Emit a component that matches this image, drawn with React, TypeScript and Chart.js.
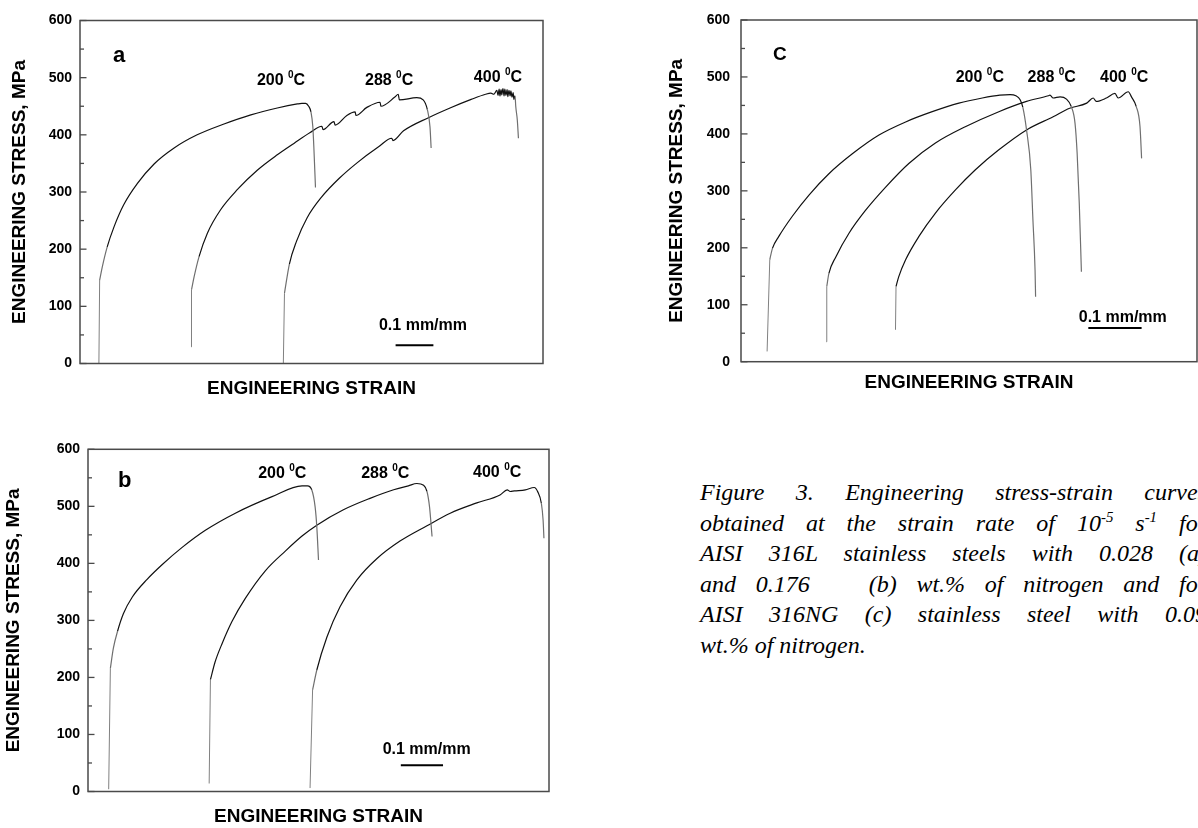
import React, { useEffect, useRef } from "react";
import { Chart, registerables } from "chart.js";

Chart.register(...registerables);

const SANS = "'Liberation Sans', Arial, Helvetica, sans-serif";
const SERIF = "'Liberation Serif', 'Times New Roman', Times, serif";

// Stress axis tick values, MPa
const stressTicks = [0, 100, 200, 300, 400, 500, 600];
// Test temperatures, degrees C
const temperatures = ["200", "288", "400"];

// Each curve: first point = start of the elastic line, second = yield knee,
// the rest = plastic flow up to fracture. Curves are shifted along the strain axis.

// (a) AISI 316L, 0.028 wt.% N
const a200Strain = [0.050, 0.052, 0.059, 0.072, 0.090, 0.116, 0.152, 0.196, 0.249, 0.310, 0.381, 0.452, 0.522, 0.575, 0.587, 0.597, 0.605, 0.611, 0.616, 0.619, 0.623];
const a200Stress = [0, 146, 169, 204, 239, 278, 315, 349, 377, 400, 419, 435, 447, 454, 455, 455, 450, 440, 414, 374, 308];
const a288Strain = [0.294, 0.295, 0.302, 0.315, 0.337, 0.372, 0.416, 0.469, 0.522, 0.566, 0.609, 0.640, 0.643, 0.672, 0.675, 0.706, 0.728, 0.730, 0.759, 0.794, 0.796, 0.833, 0.842, 0.845, 0.891, 0.908, 0.919, 0.926, 0.929];
const a288Stress = [29, 129, 152, 187, 228, 269, 304, 338, 365, 385, 404, 415, 409, 423, 417, 434, 440, 434, 448, 457, 450, 466, 471, 461, 465, 461, 444, 414, 377];
const a400Strain = [0.538, 0.541, 0.554, 0.573, 0.601, 0.639, 0.686, 0.733, 0.790, 0.825, 0.828, 0.856, 0.922, 0.979, 1.035, 1.073, 1.087, 1.095, 1.103, 1.106, 1.109, 1.111, 1.114, 1.116, 1.119, 1.122, 1.124, 1.127, 1.130, 1.132, 1.135, 1.138, 1.140, 1.143, 1.146, 1.148, 1.151, 1.153, 1.157, 1.160];
const a400Stress = [0, 123, 174, 214, 255, 291, 324, 351, 379, 394, 390, 407, 430, 447, 462, 471, 473, 471, 478, 469, 480, 468, 479, 470, 481, 468, 480, 469, 479, 467, 478, 468, 477, 466, 474, 462, 468, 449, 426, 394];

// (b) AISI 316L, 0.176 wt.% N
const b200Strain = [0.049, 0.053, 0.060, 0.070, 0.084, 0.105, 0.140, 0.176, 0.223, 0.278, 0.349, 0.436, 0.507, 0.520, 0.530, 0.538, 0.542, 0.546];
const b200Stress = [4, 216, 251, 281, 312, 341, 372, 398, 428, 458, 488, 517, 536, 536, 529, 499, 464, 406];
const b288Strain = [0.287, 0.290, 0.301, 0.318, 0.341, 0.373, 0.420, 0.468, 0.507, 0.542, 0.605, 0.668, 0.724, 0.759, 0.779, 0.795, 0.803, 0.809, 0.815];
const b288Stress = [14, 196, 227, 260, 298, 339, 387, 422, 448, 467, 494, 514, 529, 536, 540, 537, 526, 499, 447];
const b400Strain = [0.526, 0.532, 0.542, 0.566, 0.597, 0.637, 0.684, 0.739, 0.803, 0.858, 0.921, 0.976, 0.993, 1.000, 1.010, 1.036, 1.057, 1.065, 1.074, 1.078, 1.080];
const b400Stress = [6, 178, 213, 271, 324, 371, 408, 439, 466, 488, 506, 520, 529, 526, 527, 529, 533, 526, 505, 476, 444];

// (c) AISI 316NG, 0.09 wt.% N
const c200Strain = [0.049, 0.054, 0.059, 0.071, 0.096, 0.128, 0.165, 0.209, 0.259, 0.309, 0.359, 0.409, 0.453, 0.486, 0.505, 0.516, 0.524, 0.529, 0.536, 0.544, 0.548, 0.552, 0.553];
const c200Stress = [18, 179, 199, 220, 255, 293, 330, 365, 398, 421, 439, 454, 463, 468, 469, 467, 460, 447, 407, 337, 249, 161, 114];
const c288Strain = [0.160, 0.161, 0.165, 0.178, 0.203, 0.234, 0.272, 0.315, 0.365, 0.422, 0.484, 0.536, 0.577, 0.580, 0.586, 0.599, 0.611, 0.620, 0.627, 0.631, 0.635, 0.639];
const c288Stress = [35, 132, 155, 184, 226, 266, 307, 348, 384, 413, 439, 457, 467, 468, 463, 465, 461, 448, 419, 366, 278, 158];
const c400Strain = [0.290, 0.291, 0.296, 0.309, 0.334, 0.365, 0.403, 0.440, 0.484, 0.536, 0.586, 0.617, 0.649, 0.661, 0.667, 0.686, 0.702, 0.708, 0.727, 0.733, 0.742, 0.749, 0.752];
const c400Stress = [56, 132, 149, 179, 220, 261, 302, 337, 372, 407, 430, 445, 454, 463, 457, 463, 471, 463, 474, 465, 448, 413, 357];

type Curve = { strain: number[]; stress: number[] };
type Panel = {
  id: string;
  letter: string;
  letterSize: number;
  letterAt: [number, number];
  curves: Curve[];
  tempAt: [number, number][];
  strainMax: number;
  barStart: number;
  barStress: number;
  barTextAt: [number, number];
  box: { left: number; top: number; width: number; height: number };
  padTop: number;
  padRight: number;
  yAxisWidth: number;
  xAxisHeight: number;
  yTitlePad: number;
  xTitlePad: number;
  tickPad: number;
};

const panels: Panel[] = [
  {
    id: "a",
    letter: "a",
    letterSize: 22,
    letterAt: [0.087, 528],
    curves: [
      { strain: a200Strain, stress: a200Stress },
      { strain: a288Strain, stress: a288Stress },
      { strain: a400Strain, stress: a400Stress },
    ],
    tempAt: [[0.468, 487], [0.754, 487], [1.042, 492]],
    strainMax: 1.225,
    barStart: 0.835,
    barStress: 32,
    barTextAt: [0.791, 59],
    box: { left: 0, top: 0, width: 560, height: 410 },
    padTop: 20.5,
    padRight: 17,
    yAxisWidth: 80,
    xAxisHeight: 46.5,
    yTitlePad: 8.8,
    xTitlePad: 10.2,
    tickPad: 8,
  },
  {
    id: "b",
    letter: "b",
    letterSize: 22,
    letterAt: [0.071, 534],
    curves: [
      { strain: b200Strain, stress: b200Stress },
      { strain: b288Strain, stress: b288Stress },
      { strain: b400Strain, stress: b400Stress },
    ],
    tempAt: [[0.403, 549], [0.647, 549], [0.912, 552]],
    strainMax: 1.092,
    barStart: 0.741,
    barStress: 46,
    barTextAt: [0.698, 66],
    box: { left: 0, top: 420, width: 560, height: 408 },
    padTop: 29.3,
    padRight: 11,
    yAxisWidth: 88,
    xAxisHeight: 36.5,
    yTitlePad: 2.6,
    xTitlePad: 0,
    tickPad: 8,
  },
  {
    id: "c",
    letter: "C",
    letterSize: 19,
    letterAt: [0.06, 530],
    curves: [
      { strain: c200Strain, stress: c200Stress },
      { strain: c288Strain, stress: c288Stress },
      { strain: c400Strain, stress: c400Stress },
    ],
    tempAt: [[0.403, 492], [0.538, 492], [0.674, 492]],
    strainMax: 0.856,
    barStart: 0.652,
    barStress: 59,
    barTextAt: [0.634, 70],
    box: { left: 660, top: 0, width: 538, height: 410 },
    padTop: 20,
    padRight: 1,
    yAxisWidth: 81,
    xAxisHeight: 48.3,
    yTitlePad: 5.5,
    xTitlePad: 15.9,
    tickPad: 11,
  },
];

function drawTemperature(ctx: CanvasRenderingContext2D, t: string, x: number, y: number) {
  ctx.font = `bold 16px ${SANS}`;
  ctx.fillText(t + " ", x, y);
  let cx = x + ctx.measureText(t + " ").width;
  ctx.font = `bold 10px ${SANS}`;
  ctx.fillText("0", cx, y - 7);
  cx += ctx.measureText("0").width;
  ctx.font = `bold 16px ${SANS}`;
  ctx.fillText("C", cx, y);
}

// long near-vertical stretches of a record (loading and fracture) print thin and grey
const steepGrey = (ctx: any) => {
  const dx = Math.abs(ctx.p1.x - ctx.p0.x);
  const dy = Math.abs(ctx.p1.y - ctx.p0.y);
  return dy > 4 * dx && dy > 9 ? "#6f6f6f" : undefined;
};

function curveDatasets(c: Curve, label: string) {
  const pts = c.strain.map((s, k) => ({ x: s, y: c.stress[k] }));
  const style = { borderColor: "#111", borderWidth: 1.2, pointRadius: 0, fill: false };
  return [
    // straight elastic loading line up to the yield knee
    { ...style, label: `${label} elastic`, data: pts.slice(0, 2), tension: 0, borderColor: "#808080", borderWidth: 1 },
    // smooth plastic flow curve from the knee to fracture
    {
      ...style,
      label,
      data: pts.slice(1),
      cubicInterpolationMode: "monotone" as const,
      segment: { borderColor: steepGrey },
    },
  ];
}

function PanelChart({ panel }: { panel: Panel }) {
  const ref = useRef<HTMLCanvasElement>(null);

  useEffect(() => {
    const canvas = ref.current;
    if (!canvas) return;

    const decor = {
      id: "panelDecor",
      afterDatasetsDraw(chart: any) {
        const { ctx, chartArea } = chart;
        const { left, right, top, bottom } = chartArea;
        const xs = chart.scales.x;
        const ys = chart.scales.y;
        ctx.save();

        // plot frame
        ctx.strokeStyle = "#4a4a4a";
        ctx.lineWidth = 1.5;
        ctx.strokeRect(left, top, right - left, bottom - top);

        // inward ticks on the stress axis: major at labels, minor halfway
        ctx.lineWidth = 1.3;
        for (let i = 0; i < stressTicks.length; i++) {
          const v = stressTicks[i];
          const py = ys.getPixelForValue(v);
          ctx.beginPath();
          ctx.moveTo(left, py);
          ctx.lineTo(left + 6.5, py);
          ctx.stroke();
          if (i < stressTicks.length - 1) {
            const pm = ys.getPixelForValue((v + stressTicks[i + 1]) / 2);
            ctx.beginPath();
            ctx.moveTo(left, pm);
            ctx.lineTo(left + 4, pm);
            ctx.stroke();
          }
        }

        ctx.fillStyle = "#000";
        ctx.textBaseline = "alphabetic";
        ctx.textAlign = "left";

        // panel letter
        ctx.font = `bold ${panel.letterSize}px ${SANS}`;
        ctx.fillText(panel.letter, xs.getPixelForValue(panel.letterAt[0]), ys.getPixelForValue(panel.letterAt[1]));

        // temperature labels
        temperatures.forEach((t, i) => {
          const [sx, sy] = panel.tempAt[i];
          drawTemperature(ctx, t, xs.getPixelForValue(sx), ys.getPixelForValue(sy));
        });

        // 0.1 mm/mm strain scale bar
        ctx.font = `bold 16px ${SANS}`;
        ctx.fillText("0.1 mm/mm", xs.getPixelForValue(panel.barTextAt[0]), ys.getPixelForValue(panel.barTextAt[1]));
        const by = ys.getPixelForValue(panel.barStress);
        ctx.strokeStyle = "#000";
        ctx.lineWidth = 2;
        ctx.beginPath();
        ctx.moveTo(xs.getPixelForValue(panel.barStart), by);
        ctx.lineTo(xs.getPixelForValue(panel.barStart + 0.1), by);
        ctx.stroke();

        ctx.restore();
      },
    };

    const chart = new Chart(canvas, {
      type: "line",
      data: {
        datasets: panel.curves.flatMap((c, i) => curveDatasets(c, `${temperatures[i]} °C`)),
      },
      options: {
        animation: false,
        responsive: false,
        events: [],
        layout: { padding: { left: 0, top: panel.padTop, right: panel.padRight, bottom: 0 } },
        plugins: { legend: { display: false }, tooltip: { enabled: false } },
        scales: {
          x: {
            type: "linear",
            min: 0,
            max: panel.strainMax,
            ticks: { display: false },
            grid: { display: false, drawTicks: false },
            border: { display: false },
            title: {
              display: true,
              text: "ENGINEERING STRAIN",
              color: "#000",
              font: { family: SANS, size: 19, weight: "bold" },
              padding: { top: 0, bottom: panel.xTitlePad },
            },
            afterFit: (s: any) => {
              s.height = panel.xAxisHeight;
            },
          },
          y: {
            type: "linear",
            min: 0,
            max: 600,
            afterBuildTicks: (s: any) => {
              s.ticks = stressTicks.map((v) => ({ value: v }));
            },
            ticks: {
              color: "#000",
              font: { family: SANS, size: 14, weight: "bold" },
              padding: panel.tickPad,
            },
            grid: { display: false, drawTicks: false },
            border: { display: false },
            title: {
              display: true,
              text: "ENGINEERING STRESS, MPa",
              color: "#000",
              font: { family: SANS, size: 19, weight: "bold" },
              padding: { top: panel.yTitlePad, bottom: 0 },
            },
            afterFit: (s: any) => {
              s.width = panel.yAxisWidth;
            },
          },
        },
      },
      plugins: [decor],
    } as any);

    return () => chart.destroy();
  }, [panel]);

  const { left, top, width, height } = panel.box;
  return (
    <canvas
      ref={ref}
      width={width}
      height={height}
      style={{ position: "absolute", left, top, width, height }}
    />
  );
}

const supStyle: React.CSSProperties = { fontSize: "0.62em", lineHeight: 0, verticalAlign: "0.6em" };
const lineStyle: React.CSSProperties = { textAlign: "justify", textAlignLast: "justify" as any, height: 30.6 };

function Caption() {
  return (
    <div
      style={{
        position: "absolute",
        left: 700,
        top: 477,
        width: 507,
        fontFamily: SERIF,
        fontStyle: "italic",
        fontSize: 24,
        lineHeight: "30.6px",
        color: "#000",
      }}
    >
      <div style={lineStyle}>Figure 3. Engineering stress-strain curves</div>
      <div style={lineStyle}>
        obtained at the strain rate of 10<sup style={supStyle}>-5</sup> s<sup style={supStyle}>-1</sup> for
      </div>
      <div style={lineStyle}>AISI 316L stainless steels with 0.028 (a)</div>
      <div style={lineStyle}>and 0.176 &nbsp;&nbsp;(b) wt.% of nitrogen and for</div>
      <div style={lineStyle}>AISI 316NG (c) stainless steel with 0.09</div>
      <div style={{ height: 30.6 }}>wt.% of nitrogen.</div>
    </div>
  );
}

export default function App() {
  return (
    <div
      style={{
        position: "absolute",
        left: 0,
        top: 0,
        width: 1198,
        height: 828,
        overflow: "hidden",
        background: "#fff",
      }}
    >
      {panels.map((p) => (
        <PanelChart key={p.id} panel={p} />
      ))}
      <Caption />
    </div>
  );
}
